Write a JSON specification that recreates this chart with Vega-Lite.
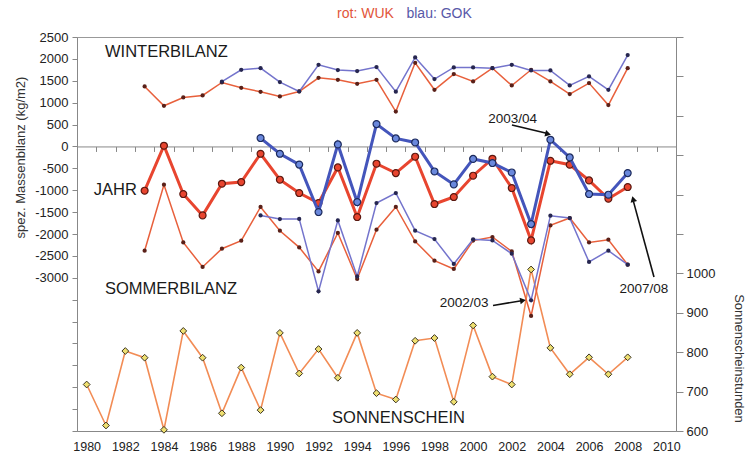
{
  "$schema": "https://vega.github.io/schema/vega-lite/v6.json",
  "width": 599,
  "height": 394,
  "autosize": {"type": "none"},
  "padding": {"left": 77, "top": 37, "right": 74, "bottom": 27},
  "config": {
    "view": {"stroke": "#999", "strokeWidth": 1},
    "font": "Liberation Sans",
    "axis": {"labelFont": "Liberation Sans", "titleFont": "Liberation Sans", "grid": false},
    "text": {"font": "Liberation Sans"}
  },
  "datasets": {
    "mb": [
      {"year": 1980, "sun": 718},
      {"year": 1981, "sun": 614},
      {"year": 1982, "sun": 803},
      {"year": 1983, "wW": 1370, "jW": -1011, "sW": -2381, "sun": 786},
      {"year": 1984, "wW": 929, "jW": 16, "sW": -874, "sun": 603},
      {"year": 1985, "wW": 1119, "jW": -1087, "sW": -2192, "sun": 854},
      {"year": 1986, "wW": 1164, "jW": -1575, "sW": -2753, "sun": 786},
      {"year": 1987, "wW": 1461, "wG": 1480, "jW": -852, "sW": -2336, "sun": 645},
      {"year": 1988, "wW": 1340, "wG": 1751, "jW": -814, "sW": -2153, "sun": 761},
      {"year": 1989, "wW": 1249, "wG": 1789, "jW": -167, "jG": 192, "sW": -1383, "sG": -1575, "sun": 653},
      {"year": 1990, "wW": 1142, "wG": 1470, "jW": -760, "jG": -167, "sW": -1925, "sG": -1658, "sun": 849},
      {"year": 1991, "wW": 1256, "wG": 1256, "jW": -1064, "jG": -414, "sW": -2306, "sG": -1655, "sun": 746},
      {"year": 1992, "wW": 1568, "wG": 1865, "jW": -1292, "jG": -1498, "sW": -2854, "sG": -3310, "sun": 808},
      {"year": 1993, "wW": 1523, "wG": 1744, "jW": -479, "jG": 46, "sW": -1977, "sG": -1689, "sun": 735},
      {"year": 1994, "wW": 1432, "wG": 1721, "jW": -1612, "jG": -1270, "sW": -3027, "sG": -2968, "sun": 849},
      {"year": 1995, "wW": 1523, "wG": 1812, "jW": -395, "jG": 511, "sW": -1902, "sG": -1292, "sun": 696},
      {"year": 1996, "wW": 796, "wG": 1252, "jW": -608, "jG": 183, "sW": -1383, "sG": -1064, "sun": 680},
      {"year": 1997, "wW": 1911, "wG": 2032, "jW": -235, "jG": 91, "sW": -2169, "sG": -1925, "sun": 829},
      {"year": 1998, "wW": 1294, "wG": 1538, "jW": -1315, "jG": -571, "sW": -2609, "sG": -2115, "sun": 836},
      {"year": 1999, "wW": 1652, "wG": 1804, "jW": -1155, "jG": -867, "sW": -2799, "sG": -2685, "sun": 674},
      {"year": 2000, "wW": 1484, "wG": 1804, "jW": -669, "jG": -285, "sW": -2150, "sG": -2120, "sun": 868},
      {"year": 2001, "wW": 1789, "wG": 1789, "jW": -281, "jG": -379, "sW": -2069, "sG": -2146, "sun": 738},
      {"year": 2002, "wW": 1393, "wG": 1865, "jW": -950, "jG": -594, "sW": -2397, "sG": -2450, "sun": 718},
      {"year": 2003, "wW": 1751, "wG": 1736, "jW": -2146, "jG": -1772, "sW": -3873, "sG": -3516, "sun": 1010},
      {"year": 2004, "wW": 1484, "wG": 1736, "jW": -327, "jG": 153, "sW": -1803, "sG": -1582, "sun": 811},
      {"year": 2005, "wW": 1196, "wG": 1393, "jW": -418, "jG": -251, "sW": -1635, "sG": -1635, "sun": 744},
      {"year": 2006, "wW": 1447, "wG": 1599, "jW": -776, "jG": -1087, "sW": -2192, "sG": -2639, "sun": 787},
      {"year": 2007, "wW": 945, "wG": 1294, "jW": -1194, "jG": -1103, "sW": -2130, "sG": -2381, "sun": 744},
      {"year": 2008, "wW": 1789, "wG": 2087, "jW": -927, "jG": -608, "sW": -2701, "sG": -2701, "sun": 787}
    ]
  },
  "resolve": {
    "scale": {"y": "independent"},
    "axis": {"x": "independent", "y": "independent"}
  },
  "layer": [
    {
      "data": {"name": "mb"},
      "transform": [{"filter": "isValid(datum.sun)"}],
      "mark": {"type": "line", "color": "#f28c55", "strokeWidth": 1.6,
        "point": {"shape": "diamond", "filled": true, "fill": "#efe070", "stroke": "#3a3320", "strokeWidth": 1, "size": 46}},
      "encoding": {
        "x": {"field": "year", "type": "quantitative", "scale": {"domain": [1979.5, 2010.5]},
          "axis": {"orient": "bottom", "values": [1980, 1982, 1984, 1986, 1988, 1990, 1992, 1994, 1996, 1998, 2000, 2002, 2004, 2006, 2008, 2010],
            "format": "d", "ticks": false, "tickSize": 0, "labelPadding": 9, "labelFontSize": 12.5, "labelColor": "#222",
            "domainColor": "#888", "title": null}},
        "y": {"field": "sun", "type": "quantitative", "scale": {"domain": [600, 1600]},
          "axis": {"orient": "right", "values": [600, 700, 800, 900, 1000, 1100, 1200, 1300, 1400, 1500, 1600],
            "labelExpr": "datum.value <= 1000 ? '' + datum.value : ''",
            "tickSize": 7, "tickColor": "#888", "domainColor": "#888", "labelPadding": 3,
            "labelFontSize": 13, "labelColor": "#222",
            "title": "Sonnenscheinstunden", "titleAngle": 90, "titleX": 62, "titleY": 321,
            "titleAlign": "center", "titleBaseline": "middle", "titleFontSize": 13, "titleFontWeight": "normal", "titleColor": "#333"}}
      }
    },
    {
      "data": {"name": "mb"},
      "transform": [{"filter": "isValid(datum.wW)"}],
      "mark": {"type": "line", "color": "#e8603c", "strokeWidth": 1.5,
        "point": {"filled": true, "color": "#5a2018", "size": 18}},
      "encoding": {
        "x": {"field": "year", "type": "quantitative", "scale": {"domain": [1979.5, 2010.5]},
          "axis": {"orient": "bottom", "offset": -284.56,
            "values": [1980.5, 1981.5, 1982.5, 1983.5, 1984.5, 1985.5, 1986.5, 1987.5, 1988.5, 1989.5, 1990.5, 1991.5, 1992.5, 1993.5, 1994.5, 1995.5, 1996.5, 1997.5, 1998.5, 1999.5, 2000.5, 2001.5, 2002.5, 2003.5, 2004.5, 2005.5, 2006.5, 2007.5, 2008.5, 2009.5],
            "labels": false, "tickSize": 5, "tickColor": "#888", "domainColor": "#888", "title": null}},
        "y": {"field": "wW", "type": "quantitative", "scale": {"domain": [-6500, 2500]},
          "axis": {"orient": "left", "values": [2500, 2000, 1500, 1000, 500, 0, -500, -1000, -1500, -2000, -2500, -3000, -3500, -4000, -4500, -5000, -5500, -6000, -6500],
            "labelExpr": "datum.value >= -3000 ? (datum.value < 0 ? '-' + abs(datum.value) : '' + datum.value) : ''",
            "tickSize": 5, "tickColor": "#888", "domainColor": "#888", "labelPadding": 4,
            "labelFontSize": 13, "labelColor": "#222",
            "title": "spez. Massenbilanz (kg/m2)", "titleAngle": -90, "titleX": -57, "titleY": 120,
            "titleAlign": "center", "titleBaseline": "middle", "titleFontSize": 13, "titleFontWeight": "normal", "titleColor": "#333"}}
      }
    },
    {
      "data": {"name": "mb"},
      "transform": [{"filter": "isValid(datum.wG)"}],
      "mark": {"type": "line", "color": "#7474cc", "strokeWidth": 1.5,
        "point": {"filled": true, "color": "#262650", "size": 18}},
      "encoding": {
        "x": {"field": "year", "type": "quantitative", "scale": {"domain": [1979.5, 2010.5]}, "axis": null},
        "y": {"field": "wG", "type": "quantitative", "scale": {"domain": [-6500, 2500]}, "axis": null}
      }
    },
    {
      "data": {"name": "mb"},
      "transform": [{"filter": "isValid(datum.sW)"}],
      "mark": {"type": "line", "color": "#e8603c", "strokeWidth": 1.5,
        "point": {"filled": true, "color": "#5a2018", "size": 18}},
      "encoding": {
        "x": {"field": "year", "type": "quantitative", "scale": {"domain": [1979.5, 2010.5]}, "axis": null},
        "y": {"field": "sW", "type": "quantitative", "scale": {"domain": [-6500, 2500]}, "axis": null}
      }
    },
    {
      "data": {"name": "mb"},
      "transform": [{"filter": "isValid(datum.sG)"}],
      "mark": {"type": "line", "color": "#7474cc", "strokeWidth": 1.5,
        "point": {"filled": true, "color": "#262650", "size": 18}},
      "encoding": {
        "x": {"field": "year", "type": "quantitative", "scale": {"domain": [1979.5, 2010.5]}, "axis": null},
        "y": {"field": "sG", "type": "quantitative", "scale": {"domain": [-6500, 2500]}, "axis": null}
      }
    },
    {
      "data": {"name": "mb"},
      "transform": [{"filter": "isValid(datum.jW)"}],
      "mark": {"type": "line", "color": "#e8452f", "strokeWidth": 3,
        "point": {"filled": true, "fill": "#e8452f", "stroke": "#5a1810", "strokeWidth": 1.2, "size": 48}},
      "encoding": {
        "x": {"field": "year", "type": "quantitative", "scale": {"domain": [1979.5, 2010.5]}, "axis": null},
        "y": {"field": "jW", "type": "quantitative", "scale": {"domain": [-6500, 2500]}, "axis": null}
      }
    },
    {
      "data": {"name": "mb"},
      "transform": [{"filter": "isValid(datum.jG)"}],
      "mark": {"type": "line", "color": "#4455bb", "strokeWidth": 3,
        "point": {"filled": true, "fill": "#6a88dc", "stroke": "#1c2a5c", "strokeWidth": 1.2, "size": 48}},
      "encoding": {
        "x": {"field": "year", "type": "quantitative", "scale": {"domain": [1979.5, 2010.5]}, "axis": null},
        "y": {"field": "jG", "type": "quantitative", "scale": {"domain": [-6500, 2500]}, "axis": null}
      }
    },
    {
      "data": {"values": [{}]},
      "mark": {"type": "text", "text": "WINTERBILANZ", "align": "left", "baseline": "middle", "fontSize": 16.5, "color": "#1a1a1a"},
      "encoding": {
        "x": {"datum": 1980.95, "type": "quantitative", "scale": {"domain": [1979.5, 2010.5]}, "axis": null},
        "y": {"datum": 2146, "type": "quantitative", "scale": {"domain": [-6500, 2500]}, "axis": null}
      }
    },
    {
      "data": {"values": [{}]},
      "mark": {"type": "text", "text": "JAHR", "align": "right", "baseline": "middle", "fontSize": 16.5, "color": "#1a1a1a"},
      "encoding": {
        "x": {"datum": 1982.6, "type": "quantitative", "scale": {"domain": [1979.5, 2010.5]}, "axis": null},
        "y": {"datum": -990, "type": "quantitative", "scale": {"domain": [-6500, 2500]}, "axis": null}
      }
    },
    {
      "data": {"values": [{}]},
      "mark": {"type": "text", "text": "SOMMERBILANZ", "align": "left", "baseline": "middle", "fontSize": 16.5, "color": "#1a1a1a"},
      "encoding": {
        "x": {"datum": 1980.95, "type": "quantitative", "scale": {"domain": [1979.5, 2010.5]}, "axis": null},
        "y": {"datum": -3260, "type": "quantitative", "scale": {"domain": [-6500, 2500]}, "axis": null}
      }
    },
    {
      "data": {"values": [{}]},
      "mark": {"type": "text", "text": "SONNENSCHEIN", "align": "left", "baseline": "middle", "fontSize": 16.5, "color": "#1a1a1a"},
      "encoding": {
        "x": {"datum": 1992.7, "type": "quantitative", "scale": {"domain": [1979.5, 2010.5]}, "axis": null},
        "y": {"datum": -6203, "type": "quantitative", "scale": {"domain": [-6500, 2500]}, "axis": null}
      }
    },
    {
      "data": {"values": [{}]},
      "mark": {"type": "text", "text": "rot: WUK", "align": "right", "baseline": "middle", "fontSize": 14, "color": "#e2553a"},
      "encoding": {
        "x": {"datum": 1995.9, "type": "quantitative", "scale": {"domain": [1979.5, 2010.5]}, "axis": null},
        "y": {"datum": 3025, "type": "quantitative", "scale": {"domain": [-6500, 2500]}, "axis": null}
      }
    },
    {
      "data": {"values": [{}]},
      "mark": {"type": "text", "text": "blau: GOK", "align": "left", "baseline": "middle", "fontSize": 14, "color": "#5858a8"},
      "encoding": {
        "x": {"datum": 1996.55, "type": "quantitative", "scale": {"domain": [1979.5, 2010.5]}, "axis": null},
        "y": {"datum": 3025, "type": "quantitative", "scale": {"domain": [-6500, 2500]}, "axis": null}
      }
    },
    {
      "data": {"values": [{}]},
      "mark": {"type": "text", "text": "2003/04", "align": "center", "baseline": "middle", "fontSize": 13.5, "color": "#1a1a1a"},
      "encoding": {
        "x": {"datum": 2002.05, "type": "quantitative", "scale": {"domain": [1979.5, 2010.5]}, "axis": null},
        "y": {"datum": 626, "type": "quantitative", "scale": {"domain": [-6500, 2500]}, "axis": null}
      }
    },
    {
      "data": {"values": [{}]},
      "mark": {"type": "text", "text": "2002/03", "align": "center", "baseline": "middle", "fontSize": 13.5, "color": "#1a1a1a"},
      "encoding": {
        "x": {"datum": 1999.53, "type": "quantitative", "scale": {"domain": [1979.5, 2010.5]}, "axis": null},
        "y": {"datum": -3565, "type": "quantitative", "scale": {"domain": [-6500, 2500]}, "axis": null}
      }
    },
    {
      "data": {"values": [{}]},
      "mark": {"type": "text", "text": "2007/08", "align": "center", "baseline": "middle", "fontSize": 13.5, "color": "#1a1a1a"},
      "encoding": {
        "x": {"datum": 2008.84, "type": "quantitative", "scale": {"domain": [1979.5, 2010.5]}, "axis": null},
        "y": {"datum": -3245, "type": "quantitative", "scale": {"domain": [-6500, 2500]}, "axis": null}
      }
    },
    {
      "data": {"values": [{}]},
      "mark": {"type": "rule", "color": "#111", "strokeWidth": 1.6},
      "encoding": {
        "x": {"datum": 2002.01, "type": "quantitative", "scale": {"domain": [1979.5, 2010.5]}, "axis": null},
        "y": {"datum": 489, "type": "quantitative", "scale": {"domain": [-6500, 2500]}, "axis": null},
        "x2": {"datum": 2003.8},
        "y2": {"datum": 300}
      }
    },
    {
      "data": {"values": [{}]},
      "mark": {"type": "point", "shape": "triangle-up", "filled": true, "color": "#111", "size": 45, "angle": 104, "opacity": 1},
      "encoding": {
        "x": {"datum": 2003.88, "type": "quantitative", "scale": {"domain": [1979.5, 2010.5]}, "axis": null},
        "y": {"datum": 284, "type": "quantitative", "scale": {"domain": [-6500, 2500]}, "axis": null}
      }
    },
    {
      "data": {"values": [{}]},
      "mark": {"type": "rule", "color": "#111", "strokeWidth": 1.6},
      "encoding": {
        "x": {"datum": 2001.03, "type": "quantitative", "scale": {"domain": [1979.5, 2010.5]}, "axis": null},
        "y": {"datum": -3633, "type": "quantitative", "scale": {"domain": [-6500, 2500]}, "axis": null},
        "x2": {"datum": 2002.5},
        "y2": {"datum": -3525}
      }
    },
    {
      "data": {"values": [{}]},
      "mark": {"type": "point", "shape": "triangle-up", "filled": true, "color": "#111", "size": 45, "angle": 80, "opacity": 1},
      "encoding": {
        "x": {"datum": 2002.58, "type": "quantitative", "scale": {"domain": [1979.5, 2010.5]}, "axis": null},
        "y": {"datum": -3519, "type": "quantitative", "scale": {"domain": [-6500, 2500]}, "axis": null}
      }
    },
    {
      "data": {"values": [{}]},
      "mark": {"type": "rule", "color": "#111", "strokeWidth": 1.6},
      "encoding": {
        "x": {"datum": 2009.36, "type": "quantitative", "scale": {"domain": [1979.5, 2010.5]}, "axis": null},
        "y": {"datum": -2982, "type": "quantitative", "scale": {"domain": [-6500, 2500]}, "axis": null},
        "x2": {"datum": 2008.3},
        "y2": {"datum": -1260}
      }
    },
    {
      "data": {"values": [{}]},
      "mark": {"type": "point", "shape": "triangle-up", "filled": true, "color": "#111", "size": 45, "angle": 345, "opacity": 1},
      "encoding": {
        "x": {"datum": 2008.28, "type": "quantitative", "scale": {"domain": [1979.5, 2010.5]}, "axis": null},
        "y": {"datum": -1201, "type": "quantitative", "scale": {"domain": [-6500, 2500]}, "axis": null}
      }
    }
  ]
}
